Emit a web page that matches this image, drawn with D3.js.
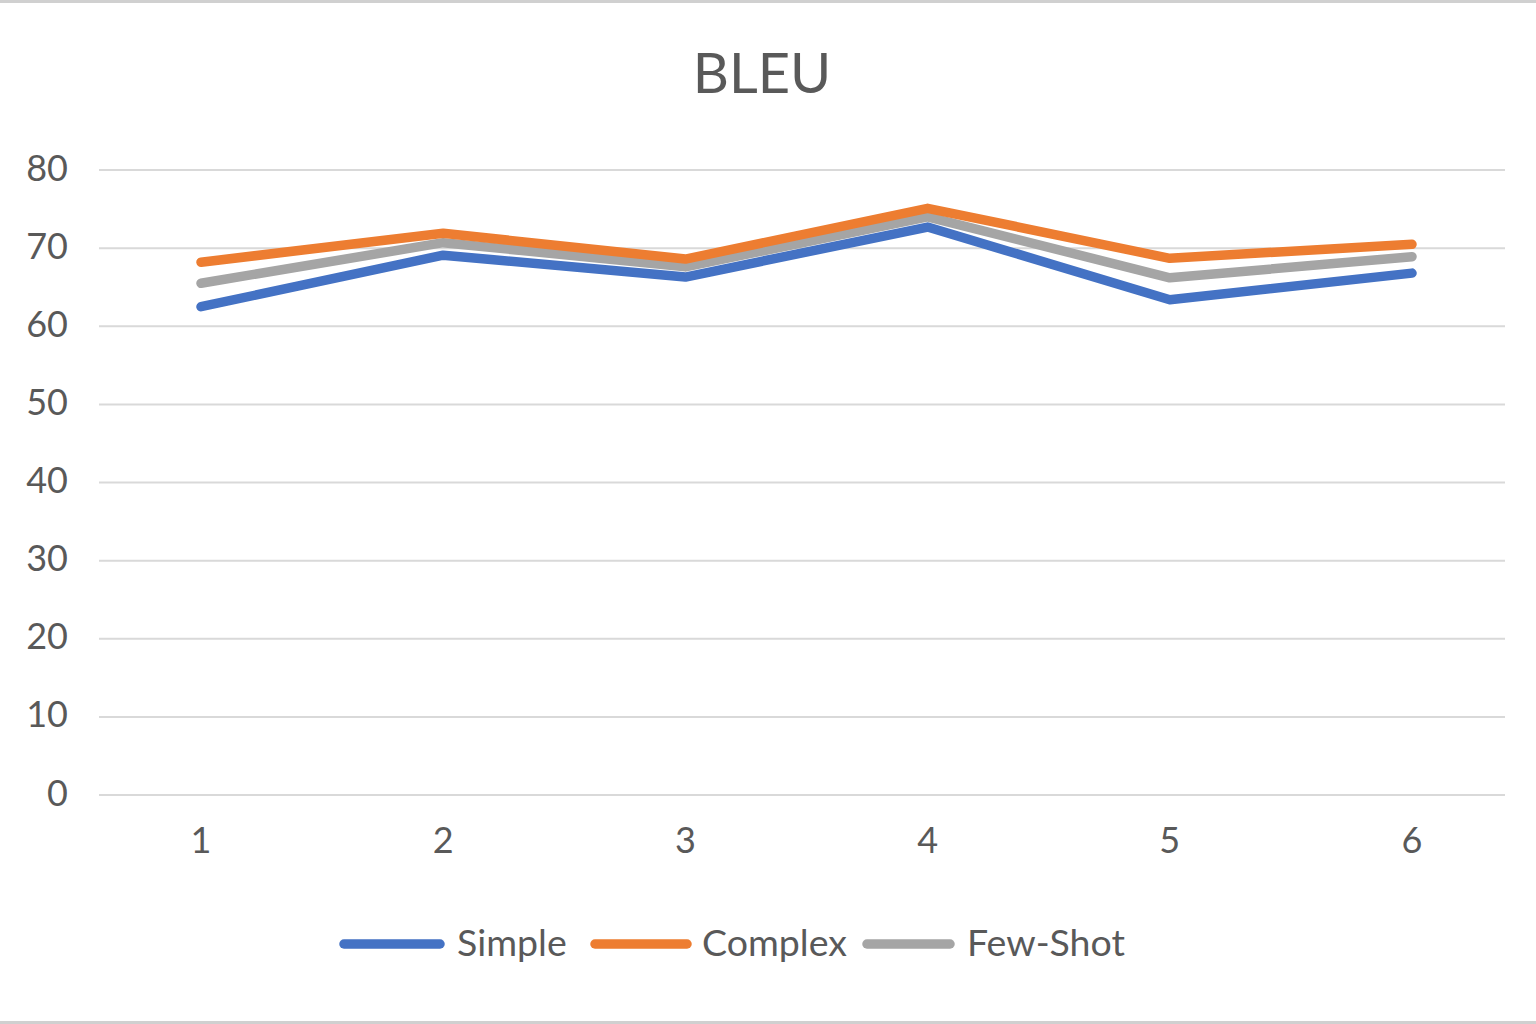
<!DOCTYPE html>
<html><head><meta charset="utf-8">
<script src="https://cdn.jsdelivr.net/npm/d3@7"></script>
<style>html,body{margin:0;padding:0;background:#fff;}svg{display:block;}</style>
</head><body>
<svg id="c" width="1536" height="1024"></svg>
<script>
const categories = ["1","2","3","4","5","6"];
const seriesNames = ["Simple","Complex","Few-Shot"];
const simple  = [62.5, 69.1, 66.3, 72.7, 63.4, 66.8];
const complex = [68.2, 71.9, 68.6, 75.1, 68.7, 70.5];
const fewShot = [65.5, 70.7, 67.6, 74.0, 66.2, 68.9];
const yTicks = [0,10,20,30,40,50,60,70,80];
const colors = ["#4472c4","#ed7d31","#a5a5a5"];

const svg = d3.select("#c");
const font = "Lato, 'Open Sans', sans-serif";
const txt = "#595959";

svg.append("rect").attr("width",1536).attr("height",1024).attr("fill","#fff");
svg.append("rect").attr("x",0).attr("y",0).attr("width",1536).attr("height",3).attr("fill","#d0d0d0");
svg.append("rect").attr("x",0).attr("y",1021).attr("width",1536).attr("height",3).attr("fill","#d0d0d0");

const x = d3.scalePoint().domain(categories).range([201,1412]);
const y = d3.scaleLinear().domain([0,80]).range([795,170]);

svg.append("g").selectAll("line").data(yTicks).join("line")
  .attr("x1",99).attr("x2",1505)
  .attr("y1",d=>y(d)).attr("y2",d=>y(d))
  .attr("stroke","#d9d9d9").attr("stroke-width",2);

svg.append("g").selectAll("text").data(yTicks).join("text")
  .attr("x",68).attr("y",d=>y(d)-2).attr("dy","0.35em")
  .attr("text-anchor","end").attr("font-family",font).attr("font-size",36)
  .attr("fill",txt).text(d=>d);

svg.append("g").selectAll("text").data(categories).join("text")
  .attr("x",d=>x(d)).attr("y",853)
  .attr("text-anchor","middle").attr("font-family",font).attr("font-size",36)
  .attr("fill",txt).text(d=>d);

svg.append("text").attr("x",762).attr("y",93).attr("text-anchor","middle")
  .attr("font-family",font).attr("font-size",56).attr("fill",txt).text("BLEU");

const series = [simple, complex, fewShot];
const line = d3.line().x((d,i)=>x(categories[i])).y(d=>y(d));
[0,2,1].forEach(k=>{
  svg.append("path").datum(series[k]).attr("d",line)
    .attr("fill","none").attr("stroke",colors[k]).attr("stroke-width",9.5)
    .attr("stroke-linecap","round").attr("stroke-linejoin","round");
});

const legend = [
  {name:seriesNames[0], color:colors[0], x1:344, x2:440, tx:457},
  {name:seriesNames[1], color:colors[1], x1:595, x2:687, tx:702},
  {name:seriesNames[2], color:colors[2], x1:867, x2:950, tx:967}
];
const lg = svg.append("g");
legend.forEach(l=>{
  lg.append("line").attr("x1",l.x1).attr("x2",l.x2).attr("y1",944).attr("y2",944)
    .attr("stroke",l.color).attr("stroke-width",9.5).attr("stroke-linecap","round");
  lg.append("text").attr("x",l.tx).attr("y",943).attr("dy","0.35em")
    .attr("font-family",font).attr("font-size",37.5).attr("fill",txt).text(l.name);
});
</script>
</body></html>
